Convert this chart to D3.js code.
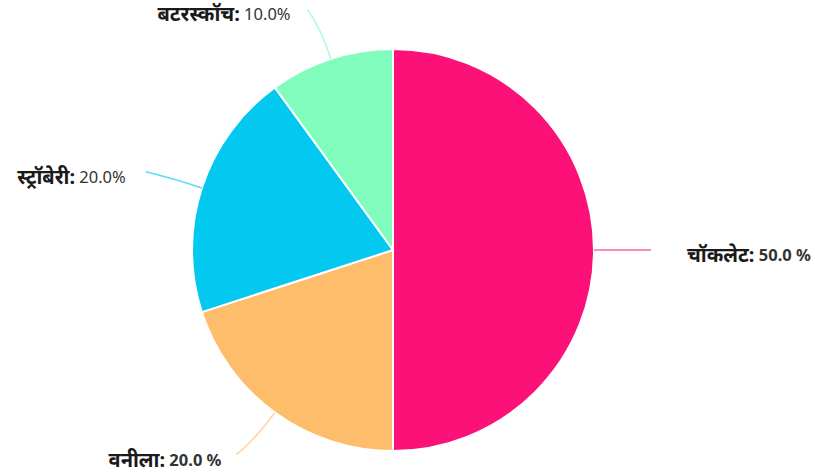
<!DOCTYPE html>
<html>
<head>
<meta charset="utf-8">
<script src="https://cdn.jsdelivr.net/npm/d3@7"></script>
<style>
  body { margin: 0; background: #fff; }
  svg { display: block; }
</style>
</head>
<body>
<div id="viz"></div>
<script>
const flavours = ["चॉकलेट", "वनीला", "स्ट्रॉबेरी", "बटरस्कॉच"];
const shares = [50, 20, 20, 10];
const colours = ["#fb1177", "#fdbd6b", "#03c8ef", "#80fdbc"];
const pctSuffix = [" %", " %", "%", "%"];

const width = 815, height = 473;
const cx = 393, cy = 250, radius = 201;

const svg = d3.select("#viz").append("svg")
  .attr("width", width)
  .attr("height", height)
  .style("font-family", "'Noto Sans', 'Noto Sans Devanagari', sans-serif");

const g = svg.append("g").attr("transform", `translate(${cx},${cy})`);

const pie = d3.pie().sort(null).value(d => d.value);
const arc = d3.arc().innerRadius(0).outerRadius(radius);

const data = flavours.map((name, i) => ({ name, value: shares[i], colour: colours[i], suffix: pctSuffix[i] }));
const total = d3.sum(shares);
const arcs = pie(data);

g.selectAll("path.slice")
  .data(arcs)
  .enter()
  .append("path")
  .attr("class", "slice")
  .attr("d", arc)
  .attr("fill", d => d.data.colour)
  .attr("stroke", "#fff")
  .attr("stroke-width", 2);

// tick lines bend a little toward horizontal
const tickLen = 57;
const labelGap = [36, 15, 20, 17];
const pt = (a, r) => [Math.sin(a) * r, -Math.cos(a) * r];

arcs.forEach((d, i) => {
  const a = (d.startAngle + d.endAngle) / 2;
  const side = Math.sin(a) >= 0 ? 1 : -1;
  const p0 = pt(a, radius);
  const p1 = pt(a, radius + tickLen * 0.55);
  let p2 = pt(a, radius + tickLen);
  p2 = [p2[0] + side * 6 * Math.abs(Math.cos(a)), p2[1] + (Math.cos(a) > 0 ? 5 : -5) * Math.abs(Math.cos(a))];

  g.append("path")
    .attr("d", `M${p0[0]},${p0[1]} Q${p1[0]},${p1[1]} ${p2[0]},${p2[1]}`)
    .attr("fill", "none")
    .attr("stroke", d.data.colour)
    .attr("stroke-opacity", 0.65)
    .attr("stroke-width", 1.6);

  const t = g.append("text")
    .attr("x", p2[0] + side * labelGap[i])
    .attr("y", p2[1] + 4)
    .attr("dominant-baseline", "central")
    .attr("text-anchor", side > 0 ? "start" : "end");

  t.append("tspan")
    .attr("font-weight", "bold")
    .attr("fill", "#1a1a1a")
    .style("font-size", "20px")
    .text(d.data.name + ":");

  t.append("tspan")
    .attr("fill", "#333")
    .attr("font-weight", i < 2 ? "bold" : "normal")
    .style("font-size", "16.5px")
    .text(" " + d3.format(".1f")(d.data.value / total * 100) + d.data.suffix);
});
</script>
</body>
</html>
